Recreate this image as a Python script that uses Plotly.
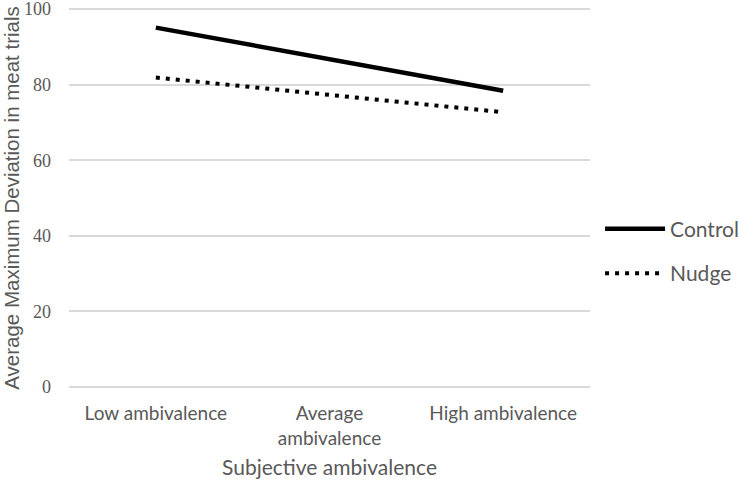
import plotly.graph_objects as go

categories = ["Low ambivalence", "Average<br>ambivalence", "High ambivalence"]
control = [95.1, 86.8, 78.4]
nudge = [81.9, 77.3, 72.7]
y_ticks = [0, 20, 40, 60, 80, 100]

text_color = "#595959"
fig = go.Figure()
fig.add_trace(go.Scatter(
    x=categories, y=control, mode="lines", name="Control",
    line=dict(color="#000000", width=4.5), legendgroup="a"))
fig.add_trace(go.Scatter(
    x=categories, y=nudge, mode="lines", name="Nudge",
    line=dict(color="#000000", width=4, dash="4px,6px"), legendgroup="b"))

fig.update_layout(
    width=739, height=492,
    margin=dict(l=69, r=149, t=8, b=104),
    paper_bgcolor="white", plot_bgcolor="white",
    font=dict(family="Lato, Open Sans, sans-serif", color=text_color),
    showlegend=True,
    legend=dict(xref="container", x=0.812, xanchor="left", y=0.36, yanchor="middle",
                itemwidth=60, tracegroupgap=14,
                font=dict(size=21, family="Lato, sans-serif", color=text_color)),
    xaxis=dict(
        range=[-0.5, 2.5], automargin=False,
        showgrid=False, zeroline=False, showline=False,
        ticks="", tickfont=dict(size=19, family="Lato, sans-serif", color=text_color),
        ticklabelstandoff=12,
        title=dict(text="Subjective ambivalence", standoff=12,
                   font=dict(size=21, family="Lato, sans-serif", color=text_color)),
    ),
    yaxis=dict(
        range=[-0.3, 100.3], tickvals=y_ticks, showgrid=True, gridcolor="#d9d9d9",
        automargin=False, ticklabeloverflow="allow",
        gridwidth=1.5, zeroline=False, showline=False, ticks="",
        ticklabelstandoff=17,
        tickfont=dict(size=18, family="Liberation Serif, DejaVu Serif, serif", color=text_color),
        title=dict(text="Average Maximum Deviation in meat trials", standoff=10,
                   font=dict(size=20.5, family="Liberation Sans, Arial, sans-serif", color=text_color)),
    ),
)
fig.write_html("out.html", config={"displayModeBar": False},
               post_script="document.body.style.margin='0';")
